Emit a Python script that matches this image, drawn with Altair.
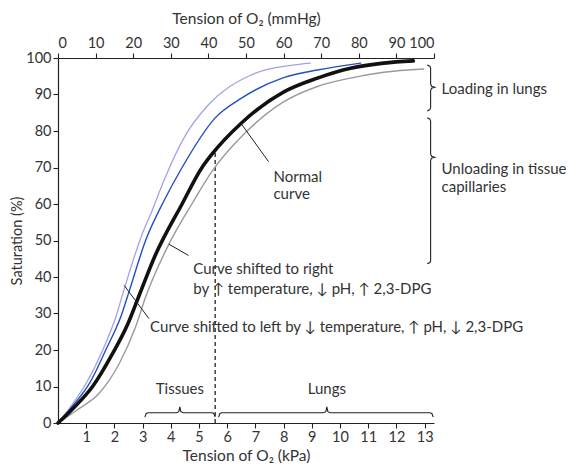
import altair as alt
import pandas as pd

MMHG_PER_KPA = 7.50062

# ---- curve data (x = mmHg, y = saturation %) ----
normal_x = [0, 4, 9.2, 14.5, 18.5, 21.6, 25.9, 33.0, 38.3, 40.9, 48.8, 60.2, 69.0, 77.8, 86.6, 94.5]
normal_y = [0, 4, 10, 19, 27, 35, 46, 60, 70, 73.6, 82.2, 90.8, 94.5, 97.2, 98.6, 99.2]

left_far_x = [0, 4, 7.5, 11.9, 15.4, 17.4, 22.4, 25.0, 28.2, 34.0, 40.0, 50.6, 62.0, 67.1]
left_far_y = [0, 5.4, 10.9, 20, 29.1, 36, 51.8, 58.1, 66.5, 79, 87.2, 95, 98, 98.6]

left_x = [0, 4, 8.4, 12.7, 16.7, 18.9, 23.3, 28.2, 33.0, 41.8, 48.8, 60.2, 69.0, 80.5]
left_y = [0, 4.8, 10.9, 20, 29.1, 36, 50, 60.9, 70, 83.6, 89, 94.7, 96.7, 98.6]

right_x = [0, 5, 11.0, 16.3, 20.7, 23.3, 29.5, 35.6, 41.0, 49.8, 60.2, 69.0, 77.8, 86.6, 97.2]
right_y = [0, 3.5, 8.2, 16.3, 26.5, 34.5, 49, 60, 69, 79.5, 88.1, 92.2, 94.5, 96.1, 97]

series_names = ["left_far", "left", "right", "normal"]
series_colors = ["#a3a3e6", "#2150c0", "#9a9a9a", "#111111"]
series_widths = [1.3, 1.4, 1.4, 3.6]

mmhg_ticks = list(range(0, 101, 10))
kpa_ticks = list(range(1, 14))
sat_ticks = list(range(0, 101, 10))

# tissue / lung boundary (mmHg) and top of dashed line (%)
boundary_x = 41.8
boundary_top = 74

rows = []
for name, xs, ys, w in [("left_far", left_far_x, left_far_y, series_widths[0]),
                        ("left", left_x, left_y, series_widths[1]),
                        ("right", right_x, right_y, series_widths[2]),
                        ("normal", normal_x, normal_y, series_widths[3])]:
    for i, (a, b) in enumerate(zip(xs, ys)):
        rows.append({"series": name, "x": a, "y": b, "w": w, "i": i})
curves = pd.DataFrame(rows)

# ---- annotations ----
ann_text = [["Normal", "curve"],
            ["Curve shifted to right", "by \u2191 temperature, \u2193 pH, \u2191 2,3-DPG"],
            ["Curve shifted to left by \u2193 temperature, \u2191 pH, \u2193 2,3-DPG"],
            ["Loading in lungs"],
            ["Unloading in tissue", "capillaries"]]
ann_x = [57.3, 36.0, 24.5, 102.0, 102.0]
ann_y = [67.4, 42.2, 26.3, 91.6, 69.7]
ann_lh = [17, 20, 15, 15, 18]
ann = pd.DataFrame({"t": ann_text, "x": ann_x, "y": ann_y, "lh": ann_lh})

region_text = ["Tissues", "Lungs"]
region_x = [32.4, 71.5]
region_y = [9.3, 9.3]
regions = pd.DataFrame({"t": region_text, "x": region_x, "y": region_y})

leader_x = [48.8, 29.5, 17.6]
leader_y = [81.9, 49.0, 37.7]
leader_x2 = [56.0, 34.7, 24.2]
leader_y2 = [71.6, 45.9, 28.6]
leaders = pd.DataFrame({"x": leader_x, "y": leader_y, "x2": leader_x2, "y2": leader_y2})

# braces: horizontal (x1, x2, tip_x, y) and vertical (y1, y2, tip_y, x)
hbrace_x1 = [23.1, 42.7]
hbrace_x2 = [41.8, 99.8]
hbrace_tip = [32.4, 71.5]
hbrace_y = 2.8

vbrace_y1 = [98.1, 83.6]
vbrace_y2 = [85.5, 43.6]
vbrace_tip = [92.0, 72.8]
vbrace_x = 99.1


def hbrace(x1, x2, tip, y, k):
    dx, hook, up = 0.9, 1.2, 1.6
    pts = [(x1, y - hook), (x1 + dx * 0.4, y - 0.2), (x1 + dx, y),
           (tip - dx, y), (tip - dx * 0.3, y + 0.3), (tip, y + up),
           (tip + dx * 0.3, y + 0.3), (tip + dx, y),
           (x2 - dx, y), (x2 - dx * 0.4, y - 0.2), (x2, y - hook)]
    return [{"b": k, "x": a, "y": b, "i": i} for i, (a, b) in enumerate(pts)]


def vbrace(y1, y2, tip, x, k):
    dy, hook, out = 0.9, 0.9, 1.1
    pts = [(x - hook, y1), (x - 0.2, y1 - dy * 0.4), (x, y1 - dy),
           (x, tip + dy), (x + 0.25, tip + dy * 0.3), (x + out, tip),
           (x + 0.25, tip - dy * 0.3), (x, tip - dy),
           (x, y2 + dy), (x - 0.2, y2 + dy * 0.4), (x - hook, y2)]
    return [{"b": k, "x": a, "y": b, "i": i} for i, (a, b) in enumerate(pts)]


brace_rows = []
for j in range(2):
    brace_rows += hbrace(hbrace_x1[j], hbrace_x2[j], hbrace_tip[j], hbrace_y, "h%d" % j)
    brace_rows += vbrace(vbrace_y1[j], vbrace_y2[j], vbrace_tip[j], vbrace_x, "v%d" % j)
braces = pd.DataFrame(brace_rows)

FONT = "Lato"
TXT = "#333333"
FS = 15
xscale = alt.Scale(domain=[0, 100], nice=False, zero=True)
yscale = alt.Scale(domain=[0, 100], nice=False)

top_axis = alt.Axis(orient="top", values=mmhg_ticks, title="Tension of O\u2082 (mmHg)",
                    tickSize=5, titlePadding=9, grid=False, labelPadding=3)
bottom_axis = alt.Axis(orient="bottom", values=[k * MMHG_PER_KPA for k in kpa_ticks],
                       labelExpr="round(datum.value / 7.50062)",
                       title="Tension of O\u2082 (kPa)", tickSize=5, titlePadding=5,
                       grid=False, labelPadding=2)
y_axis = alt.Axis(values=sat_ticks, title="Saturation (%)", tickSize=5,
                  titlePadding=1, grid=False, labelPadding=2, titleFontSize=14.5)

curve_layer = alt.Chart(curves).mark_line(interpolate="monotone", strokeCap="round").encode(
    x=alt.X("x:Q", scale=xscale, axis=top_axis),
    y=alt.Y("y:Q", scale=yscale, axis=y_axis),
    color=alt.Color("series:N", scale=alt.Scale(domain=series_names, range=series_colors), legend=None),
    strokeWidth=alt.StrokeWidth("w:Q", scale=None),
    detail="series:N",
    order="i:Q",
)

dash_df = pd.DataFrame({"x": [boundary_x], "y": [0], "y2": [boundary_top]})
dash_layer = alt.Chart(dash_df).mark_rule(strokeDash=[4, 3], color="#222", strokeWidth=1.3).encode(
    x=alt.X("x:Q", scale=xscale, axis=bottom_axis),
    y=alt.Y("y:Q", scale=yscale, axis=None),
    y2="y2:Q",
)

leader_layer = alt.Chart(leaders).mark_rule(color="#222", strokeWidth=1).encode(
    x=alt.X("x:Q", scale=xscale, axis=None),
    y=alt.Y("y:Q", scale=yscale, axis=None),
    x2="x2:Q", y2="y2:Q",
)

brace_layer = alt.Chart(braces).mark_line(color="#222", strokeWidth=1.1).encode(
    x=alt.X("x:Q", scale=xscale, axis=None),
    y=alt.Y("y:Q", scale=yscale, axis=None),
    detail="b:N",
    order="i:Q",
)

ann_layers = []
for lh in sorted(set(ann_lh)):
    sub = ann[ann["lh"] == lh]
    ann_layers.append(
        alt.Chart(sub).mark_text(align="left", baseline="middle", font=FONT,
                                 fontSize=FS, color=TXT, lineHeight=lh).encode(
            x=alt.X("x:Q", scale=xscale, axis=None),
            y=alt.Y("y:Q", scale=yscale, axis=None),
            text="t",
        )
    )

region_layer = alt.Chart(regions).mark_text(align="center", baseline="middle", font=FONT,
                                            fontSize=FS, color=TXT).encode(
    x=alt.X("x:Q", scale=xscale, axis=None),
    y=alt.Y("y:Q", scale=yscale, axis=None),
    text="t:N",
)

chart = alt.layer(dash_layer, curve_layer, leader_layer, brace_layer, *ann_layers, region_layer).resolve_axis(
    x="independent", y="independent"
).properties(
    width=376, height=365,
    autosize=alt.AutoSizeParams(type="none"),
    padding={"left": 50, "top": 50, "right": 134, "bottom": 45},
).configure_view(stroke=None).configure_axis(
    labelFont=FONT, titleFont=FONT, labelFontSize=14.5, titleFontSize=15.5,
    labelColor=TXT, titleColor=TXT, titleFontWeight="normal",
    domainColor="#222", tickColor="#222", domainWidth=1.2, tickWidth=1.1,
)

chart.save("out.html", embed_options={"renderer": "svg", "actions": False})
